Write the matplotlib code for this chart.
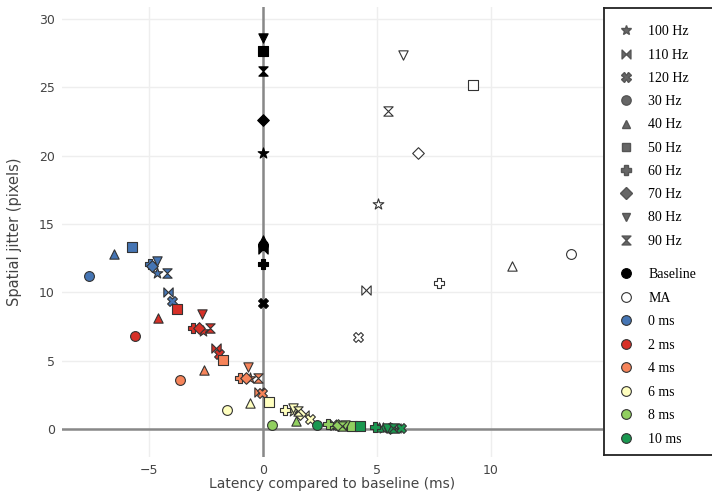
import numpy as np
import matplotlib
matplotlib.use("Agg")
import matplotlib.pyplot as plt
from matplotlib.path import Path
from matplotlib.lines import Line2D

# marker order used by every group below
shapes = ["100 Hz", "110 Hz", "120 Hz", "30 Hz", "40 Hz",
          "50 Hz", "60 Hz", "70 Hz", "80 Hz", "90 Hz"]

groups = ["Baseline", "MA", "0 ms", "2 ms", "4 ms", "6 ms", "8 ms", "10 ms"]

baseline_x = [0, 0, 0, 0, 0, 0, 0, 0, 0, 0]
baseline_y = [20.2, 13.2, 9.2, 13.5, 13.8, 27.7, 12.1, 22.6, 28.6, 26.2]

ma_x = [5.04, 4.5, 4.17, 13.5, 10.9, 9.2, 7.7, 6.8, 6.14, 5.48]
ma_y = [16.5, 10.2, 6.7, 12.8, 11.9, 25.2, 10.7, 20.2, 27.4, 23.3]

ms0_x = [-4.65, -4.15, -4.0, -7.63, -6.55, -5.75, -4.95, -4.85, -4.65, -4.2]
ms0_y = [11.4, 10.0, 9.4, 11.2, 12.8, 13.3, 12.1, 11.9, 12.3, 11.4]

ms2_x = [-2.63, -2.05, -1.95, -5.6, -4.6, -3.77, -3.07, -2.8, -2.68, -2.32]
ms2_y = [7.2, 5.9, 5.5, 6.8, 8.1, 8.8, 7.4, 7.4, 8.4, 7.4]

ms4_x = [-0.57, -0.2, -0.05, -3.64, -2.6, -1.75, -1.0, -0.75, -0.66, -0.22]
ms4_y = [3.75, 2.7, 2.6, 3.6, 4.3, 5.05, 3.7, 3.7, 4.5, 3.75]

ms6_x = [1.3, 1.8, 2.05, -1.6, -0.57, 0.26, 0.95, 1.6, 1.3, 1.55]
ms6_y = [1.3, 1.0, 0.75, 1.4, 1.9, 2.0, 1.4, 1.1, 1.55, 1.35]

ms8_x = [3.2, 3.5, 3.05, 0.4, 1.45, 3.9, 2.85, 3.3, 3.6, 3.45]
ms8_y = [0.3, 0.25, 0.3, 0.3, 0.6, 0.2, 0.35, 0.3, 0.3, 0.25]

ms10_x = [5.25, 5.85, 6.05, 2.37, 5.1, 4.25, 4.9, 5.55, 5.45, 5.7]
ms10_y = [0.1, 0.1, 0.1, 0.3, 0.15, 0.2, 0.15, 0.1, 0.1, 0.1]

group_x = [baseline_x, ma_x, ms0_x, ms2_x, ms4_x, ms6_x, ms8_x, ms10_x]
group_y = [baseline_y, ma_y, ms0_y, ms2_y, ms4_y, ms6_y, ms8_y, ms10_y]
group_colors = ["black", "white", "#4575b4", "#d73027", "#f6845a",
                "#ffffbf", "#91cf60", "#1a9850"]
group_edges = ["black", "#333333", "#333333", "#333333", "#333333",
               "#333333", "#333333", "#333333"]

bowtie = Path([(-1, -1), (-1, 1), (0, 0), (1, 1), (1, -1), (0, 0), (-1, -1)],
              [1, 2, 2, 2, 2, 2, 79])
hourglass = Path([(-1, -1), (1, -1), (0, 0), (1, 1), (-1, 1), (0, 0), (-1, -1)],
                 [1, 2, 2, 2, 2, 2, 79])
markers = ["*", bowtie, "X", "o", "^", "s", "P", "D", "v", hourglass]
sizes = [65, 45, 50, 50, 45, 45, 55, 35, 45, 45]

fig = plt.figure(figsize=(7.12, 4.97), dpi=100)
ax = fig.add_axes([0.087, 0.0805, 0.76, 0.905])

for gx, gy, fc, ec in zip(group_x, group_y, group_colors, group_edges):
    for i in range(len(shapes)):
        ax.scatter(gx[i], gy[i], marker=markers[i], s=sizes[i], c=fc,
                   edgecolors=ec, linewidths=0.8, zorder=3)

ax.set_xlim(-8.82, 14.91)
ax.set_ylim(-2.05, 30.87)
ax.set_xticks([-5, 0, 5, 10])
ax.set_xticklabels(["\u22125", "0", "5", "10"])
ax.set_yticks([0, 5, 10, 15, 20, 25, 30])
ax.grid(True, color="#eeeeee", linewidth=1)
ax.set_axisbelow(True)
ax.axhline(0, color="#888888", linewidth=1.8, zorder=1)
ax.axvline(0, color="#888888", linewidth=1.8, zorder=1)
for sp in ax.spines.values():
    sp.set_visible(False)
ax.tick_params(length=0, labelsize=9, labelcolor="#444444", pad=5)
ax.set_xlabel("Latency compared to baseline (ms)", fontsize=10,
              color="#444444", labelpad=0)
ax.set_ylabel("Spatial jitter (pixels)", fontsize=10.5, color="#444444",
              labelpad=12)

# legend box on the right
lax = fig.add_axes([604 / 712, 1 - 455 / 497, 0.2, (455 - 8) / 497])
lax.set_xticks([])
lax.set_yticks([])
for sp in lax.spines.values():
    sp.set_linewidth(1.3)
    sp.set_color("#222222")

shape_handles = [Line2D([], [], linestyle="none", marker=markers[i],
                        markersize=np.sqrt(sizes[i]) * 0.95, color="#666666",
                        markeredgecolor="#555555") for i in range(len(shapes))]
group_handles = [Line2D([], [], linestyle="none", marker="o", markersize=7,
                        markerfacecolor=fc, markeredgecolor=ec, markeredgewidth=0.8)
                 for fc, ec in zip(group_colors, group_edges)]

leg_font = {"family": "Liberation Serif", "size": 10}
leg1 = lax.legend(shape_handles, shapes, loc="upper left", bbox_to_anchor=(0.0, 0.98),
                  frameon=False, prop=leg_font, labelspacing=0.74,
                  handletextpad=0.6, borderaxespad=0.2)
lax.add_artist(leg1)
lax.legend(group_handles, groups, loc="upper left", bbox_to_anchor=(0.0, 0.437),
           frameon=False, prop=leg_font, labelspacing=0.76,
           handletextpad=0.6, borderaxespad=0.2)

fig.savefig("out.png", dpi=100)
